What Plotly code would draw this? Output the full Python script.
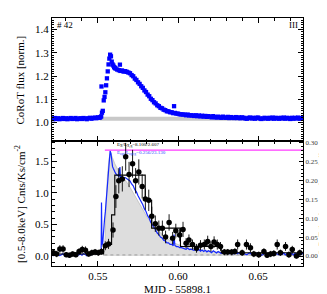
import plotly.graph_objects as go

# ---------------- top panel: CoRoT light curve ----------------
corot_time = [
    0.521, 0.522, 0.523, 0.524, 0.525, 0.526, 0.527, 0.528, 0.529, 0.530,
    0.531, 0.532, 0.533, 0.534, 0.535, 0.536, 0.537, 0.538, 0.539, 0.540,
    0.541, 0.542, 0.543, 0.544, 0.545, 0.546, 0.547, 0.548, 0.549, 0.550,
    0.551, 0.5515, 0.552, 0.5522, 0.5525, 0.553, 0.5536, 0.5541, 0.5546, 0.5551,
    0.5556, 0.5561, 0.5566, 0.5571, 0.5576, 0.5581, 0.5586, 0.5591, 0.5596, 0.5601,
    0.5606, 0.561, 0.562, 0.563, 0.5637, 0.564, 0.565, 0.566, 0.567, 0.568,
    0.569, 0.570, 0.571, 0.572, 0.573, 0.574, 0.575, 0.576, 0.577, 0.578,
    0.579, 0.580, 0.581, 0.582, 0.583, 0.584, 0.585, 0.586, 0.587, 0.588,
    0.589, 0.590, 0.591, 0.592, 0.593, 0.594, 0.595, 0.596, 0.597, 0.5975,
    0.598, 0.599, 0.600, 0.601, 0.602, 0.603, 0.604, 0.605, 0.606, 0.607,
    0.608, 0.609, 0.610, 0.611, 0.612, 0.613, 0.614, 0.615, 0.616, 0.617,
    0.618, 0.619, 0.620, 0.621, 0.622, 0.623, 0.624, 0.625, 0.626, 0.627,
    0.628, 0.629, 0.630, 0.631, 0.632, 0.633, 0.634, 0.635, 0.636, 0.637,
    0.638, 0.639, 0.640, 0.641, 0.642, 0.643, 0.644, 0.645, 0.646, 0.647,
    0.648, 0.649, 0.650, 0.651, 0.652, 0.653, 0.654, 0.655, 0.656, 0.657,
    0.658, 0.659, 0.660, 0.661, 0.662, 0.663, 0.664, 0.665, 0.666, 0.667,
    0.668, 0.669, 0.670, 0.671, 0.672, 0.673, 0.674, 0.675, 0.676, 0.677,
    0.678,
]
corot_flux = [
    1.017, 1.014, 1.019, 1.015, 1.018, 1.014, 1.016, 1.019, 1.015, 1.018,
    1.014, 1.017, 1.019, 1.015, 1.016, 1.019, 1.014, 1.016, 1.018, 1.015,
    1.019, 1.017, 1.014, 1.018, 1.020, 1.016, 1.019, 1.021, 1.018, 1.022,
    1.020, 1.023, 1.026, 1.155, 1.042, 1.050, 1.095, 1.110, 1.130, 1.160,
    1.190, 1.220, 1.250, 1.275, 1.292, 1.285, 1.262, 1.250, 1.245, 1.238,
    1.235, 1.232, 1.228, 1.225, 1.249, 1.222, 1.224, 1.219, 1.221, 1.218,
    1.215, 1.212, 1.204, 1.199, 1.189, 1.183, 1.173, 1.166, 1.156, 1.149,
    1.138, 1.131, 1.120, 1.113, 1.102, 1.096, 1.087, 1.082, 1.074, 1.070,
    1.063, 1.061, 1.055, 1.053, 1.048, 1.048, 1.044, 1.044, 1.040, 1.070,
    1.041, 1.038, 1.038, 1.035, 1.035, 1.034, 1.034, 1.031, 1.034, 1.030,
    1.031, 1.030, 1.028, 1.031, 1.027, 1.030, 1.026, 1.029, 1.025, 1.028,
    1.024, 1.027, 1.025, 1.022, 1.027, 1.023, 1.021, 1.025, 1.022, 1.020,
    1.025, 1.021, 1.020, 1.024, 1.019, 1.023, 1.020, 1.019, 1.023, 1.019,
    1.022, 1.018, 1.022, 1.020, 1.017, 1.016, 1.020, 1.021, 1.017, 1.020,
    1.016, 1.020, 1.021, 1.017, 1.015, 1.017, 1.020, 1.018, 1.016, 1.020,
    1.017, 1.021, 1.016, 1.020, 1.018, 1.016, 1.020, 1.017, 1.021, 1.016,
    1.020, 1.018, 1.015, 1.020, 1.016, 1.020, 1.017, 1.021, 1.016, 1.018,
    1.020,
]
quiescent_level = 1.016
quiescent_range = [0.551, 0.678]
detrend_level = 1.013

# ---------------- bottom panel: X-ray light curve ----------------
xray_time = [
    0.5222, 0.5242, 0.5262, 0.5282, 0.5302, 0.5322, 0.5342, 0.5362, 0.5382, 0.5402,
    0.5422, 0.5442, 0.5462, 0.5482, 0.5502, 0.5522, 0.5546, 0.5566, 0.5594, 0.5612,
    0.5630, 0.5652, 0.5673, 0.5694, 0.5716, 0.5735, 0.5755, 0.5776, 0.5796, 0.5817,
    0.5836, 0.5858, 0.5880, 0.5902, 0.5922, 0.5944, 0.5966, 0.5986, 0.6010, 0.6031,
    0.6050, 0.6068, 0.6090, 0.6115, 0.6140, 0.6164, 0.6185, 0.6205, 0.6225, 0.6245,
    0.6265, 0.6289, 0.6310, 0.6335, 0.6355, 0.6372, 0.6400, 0.6427, 0.6452, 0.6473,
    0.6504, 0.6536, 0.6556, 0.6578, 0.6598, 0.6619, 0.6639, 0.6671, 0.6692, 0.6713,
    0.6739, 0.6760,
]
xray_rate = [
    0.05, 0.03, 0.11, 0.11, 0.02, 0.01, 0.03, 0.02, 0.07, 0.10,
    0.09, 0.03, 0.05, 0.06, 0.05, 0.07, 0.16, 0.19, 0.41, 0.94,
    1.19, 1.22, 1.57, 1.29, 1.46, 1.19, 1.33, 1.10, 0.90, 0.88,
    0.63, 0.51, 0.44, 0.44, 0.30, 0.53, 0.28, 0.40, 0.33, 0.42,
    0.20, 0.25, 0.18, 0.12, 0.17, 0.18, 0.23, 0.15, 0.22, 0.18,
    0.15, 0.06, 0.06, 0.06, 0.07, 0.18, 0.05, 0.18, 0.13, 0.03,
    0.02, 0.07, 0.01, 0.03, 0.04, 0.18, 0.05, 0.15, 0.02, 0.10,
    0.00, 0.05,
]
xray_err = [
    0.05, 0.05, 0.06, 0.06, 0.04, 0.04, 0.04, 0.04, 0.05, 0.06,
    0.06, 0.04, 0.05, 0.05, 0.05, 0.05, 0.07, 0.08, 0.12, 0.18,
    0.20, 0.20, 0.22, 0.20, 0.22, 0.20, 0.20, 0.19, 0.17, 0.17,
    0.15, 0.13, 0.12, 0.12, 0.10, 0.13, 0.10, 0.11, 0.10, 0.12,
    0.08, 0.09, 0.08, 0.07, 0.08, 0.08, 0.09, 0.08, 0.09, 0.08,
    0.07, 0.05, 0.05, 0.05, 0.05, 0.08, 0.05, 0.08, 0.07, 0.05,
    0.05, 0.05, 0.04, 0.05, 0.05, 0.08, 0.05, 0.07, 0.05, 0.06,
    0.04, 0.05,
]
xray_halfbin = 0.001

block_edges = [0.5213, 0.5535, 0.5585, 0.5605, 0.5795, 0.5835, 0.6015, 0.627, 0.678]
block_rate = [0.03, 0.18, 0.65, 1.28, 0.88, 0.44, 0.15, 0.05]

model_time = [0.5535, 0.5545, 0.555, 0.556, 0.557, 0.5578, 0.559, 0.5605, 0.563, 0.566,
              0.569, 0.572, 0.575, 0.578, 0.581, 0.584, 0.587, 0.590, 0.594, 0.598,
              0.603, 0.608, 0.615, 0.625, 0.640, 0.660, 0.678]
model_rate = [0.0, 0.30, 0.80, 1.30, 1.55, 1.64, 1.56, 1.46, 1.34, 1.24,
              1.13, 1.00, 0.86, 0.72, 0.60, 0.50, 0.42, 0.34, 0.26, 0.20,
              0.15, 0.12, 0.09, 0.06, 0.04, 0.03, 0.03]

peak_level = 0.281
peak_range = [0.5543, 0.678]
zero_level = 0.015
zero_range = [0.554, 0.678]

FONT = "Liberation Serif"

corot_detrended = [f - detrend_level for f in corot_flux]

fig = go.Figure()

# top panel
fig.add_trace(go.Scatter(x=quiescent_range, y=[quiescent_level, quiescent_level],
                         xaxis="x2", yaxis="y2", mode="lines",
                         line=dict(color="rgb(200,200,200)", width=4),
                         showlegend=False, hoverinfo="skip"))
fig.add_trace(go.Scatter(x=corot_time, y=corot_flux, xaxis="x2", yaxis="y2",
                         mode="markers",
                         marker=dict(color="rgb(0,0,255)", size=4.3, symbol="square",
                                     line=dict(width=0)),
                         showlegend=False))

# bottom panel
fig.add_trace(go.Scatter(x=model_time, y=model_rate, xaxis="x", yaxis="y",
                         mode="lines", fill="tozeroy",
                         fillcolor="rgb(221,221,221)",
                         line=dict(color="rgb(175,175,175)", width=0.6),
                         showlegend=False))
fig.add_trace(go.Scatter(x=zero_range, y=[zero_level, zero_level], xaxis="x", yaxis="y",
                         mode="lines", line=dict(color="rgb(140,140,140)", width=0.8, dash="dot"),
                         showlegend=False))
fig.add_trace(go.Scatter(x=corot_time, y=corot_detrended, xaxis="x", yaxis="y3",
                         mode="lines", line=dict(color="rgb(20,40,255)", width=1.2),
                         showlegend=False))
fig.add_trace(go.Scatter(x=peak_range, y=[peak_level, peak_level], xaxis="x", yaxis="y3",
                         mode="lines", line=dict(color="rgb(255,60,255)", width=1.3),
                         showlegend=False))
fig.add_trace(go.Scatter(x=block_edges, y=block_rate + [block_rate[-1]], xaxis="x", yaxis="y4",
                         mode="lines", line=dict(color="black", width=1.1, shape="hv"),
                         showlegend=False))
fig.add_trace(go.Scatter(x=xray_time, y=xray_rate, xaxis="x", yaxis="y4",
                         mode="markers",
                         marker=dict(color="black", size=5.5),
                         error_y=dict(type="data", array=xray_err, color="black",
                                      thickness=0.9, width=0),
                         error_x=dict(type="constant", value=xray_halfbin, color="black",
                                      thickness=0.9, width=0),
                         showlegend=False))

axis_common = dict(showline=True, linecolor="black", linewidth=1, ticks="inside",
                   tickcolor="black", showgrid=False, zeroline=False,
                   tickfont=dict(family=FONT, size=11, color="black"))

XR = [0.5213, 0.678]
fig.update_layout(
    width=327, height=294,
    margin=dict(l=44, r=32, t=8, b=36),
    paper_bgcolor="white", plot_bgcolor="white",
    font=dict(family=FONT, color="black"),
    xaxis=dict(domain=[0, 1], anchor="y", range=XR,
               tickvals=[0.55, 0.60, 0.65], ticktext=["0.55", "0.60", "0.65"],
               ticklen=5, mirror="ticks",
               minor=dict(dtick=0.01, tick0=0.5, ticks="inside", ticklen=2.5, tickcolor="black"),
               **axis_common),
    xaxis2=dict(domain=[0, 1], anchor="y2", range=XR, matches="x",
                showticklabels=False, tickvals=[0.55, 0.60, 0.65],
                ticklen=5, mirror="ticks",
                minor=dict(dtick=0.01, tick0=0.5, ticks="inside", ticklen=2.5, tickcolor="black"),
                **axis_common),
    yaxis=dict(domain=[0, 0.504], anchor="x", range=[-0.16, 1.82],
               tickvals=[0.0, 0.5, 1.0, 1.5], ticktext=["0.0", "0.5", "1.0", "1.5"],
               ticklen=5,
               minor=dict(dtick=0.1, tick0=0, ticks="inside", ticklen=2.5, tickcolor="black"),
               **axis_common),
    yaxis3=dict(overlaying="y", side="right", anchor="x", range=[-0.0265, 0.305],
                tickvals=[0, 0.05, 0.10, 0.15, 0.20, 0.25, 0.30],
                ticktext=["0.00", "0.05", "0.10", "0.15", "0.20", "0.25", "0.30"],
                ticklen=4,
                minor=dict(dtick=0.01, tick0=0, ticks="inside", ticklen=2, tickcolor="black"),
                showline=True, linecolor="black", linewidth=1, ticks="inside",
                tickcolor="black", showgrid=False, zeroline=False,
                tickfont=dict(family=FONT, size=7, color="rgb(60,60,60)")),
    yaxis4=dict(overlaying="y", anchor="x", range=[-0.16, 1.82], visible=False),
    yaxis2=dict(domain=[0.504, 1], anchor="x2", range=[0.92, 1.45],
                tickvals=[1.0, 1.1, 1.2, 1.3, 1.4], ticktext=["1.0", "1.1", "1.2", "1.3", "1.4"],
                ticklen=5, mirror="ticks",
                minor=dict(dtick=0.01, tick0=0, ticks="inside", ticklen=2, tickcolor="black"),
                **axis_common),
)

annotations = [
    dict(text="CoRoT flux [norm.]", x=-0.1275, y=0.752, xref="paper", yref="paper",
         textangle=-90, showarrow=False, xanchor="center", yanchor="middle",
         font=dict(family=FONT, size=11, color="black")),
    dict(text="[0.5-8.0keV] Cnts/Ks/cm<sup>-2</sup>", x=-0.1275, y=0.25, xref="paper", yref="paper",
         textangle=-90, showarrow=False, xanchor="center", yanchor="middle",
         font=dict(family=FONT, size=11, color="black")),
    dict(text="CoRoT flux [norm. - detrended]", x=1.074, y=0.25, xref="paper", yref="paper",
         textangle=-90, showarrow=False, xanchor="center", yanchor="middle",
         font=dict(family=FONT, size=8, color="rgb(60,60,60)")),
    dict(text="MJD - 55898.1", x=0.5, y=-0.094, xref="paper", yref="paper",
         showarrow=False, xanchor="center", yanchor="middle",
         font=dict(family=FONT, size=11, color="black")),
    dict(text="# 42", x=0.012, y=0.972, xref="paper", yref="paper",
         showarrow=False, xanchor="left", yanchor="middle",
         font=dict(family=FONT, size=9, color="black")),
    dict(text="III", x=0.99, y=0.972, xref="paper", yref="paper",
         showarrow=False, xanchor="right", yanchor="middle",
         font=dict(family=FONT, size=9, color="black")),
    dict(text="E<sub>X</sub>/L<sub>X,q</sub>=8.100/2.607", x=0.251, y=0.484,
         xref="paper", yref="paper", showarrow=False, xanchor="left", yanchor="middle",
         font=dict(family=FONT, size=5, color="black")),
    dict(text="E<sub>opt</sub>/L<sub>opt,q</sub>=0.256/23.130", x=0.251, y=0.455,
         xref="paper", yref="paper", showarrow=False, xanchor="left", yanchor="middle",
         font=dict(family=FONT, size=5, color="rgb(40,60,255)")),
]
fig.update_layout(annotations=annotations)

fig.write_html("out.html")
